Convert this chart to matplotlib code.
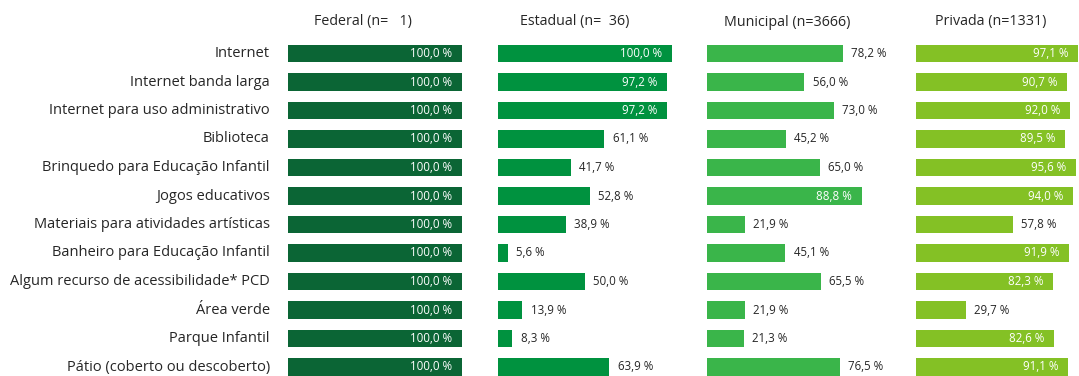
import matplotlib.pyplot as plt
from matplotlib.transforms import blended_transform_factory

plt.rcParams['font.family'] = ['Open Sans', 'DejaVu Sans']

categories = [
    "Internet",
    "Internet banda larga",
    "Internet para uso administrativo",
    "Biblioteca",
    "Brinquedo para Educação Infantil",
    "Jogos educativos",
    "Materiais para atividades artísticas",
    "Banheiro para Educação Infantil",
    "Algum recurso de acessibilidade* PCD",
    "Área verde",
    "Parque Infantil",
    "Pátio (coberto ou descoberto)",
]

titles = ["Federal (n=   1)", "Estadual (n=  36)", "Municipal (n=3666)", "Privada (n=1331)"]

federal = [100.0] * 12
estadual = [100.0, 97.2, 97.2, 61.1, 41.7, 52.8, 38.9, 5.6, 50.0, 13.9, 8.3, 63.9]
municipal = [78.2, 56.0, 73.0, 45.2, 65.0, 88.8, 21.9, 45.1, 65.5, 21.9, 21.3, 76.5]
privada = [97.1, 90.7, 92.0, 89.5, 95.6, 94.0, 57.8, 91.9, 82.3, 29.7, 82.6, 91.1]

series = [federal, estadual, municipal, privada]
colors = ["#0b6535", "#00923f", "#3ab54a", "#84c125"]

W, H = 1079, 376
fig = plt.figure(figsize=(W / 100, H / 100), dpi=100)

# panel placement in pixels (left edge, width of the 0-100 scale)
lefts = [288, 498, 707, 916]
widths = [174, 174, 174, 167]
title_x = [0.43, 0.44, 0.46, 0.45]
row_h = 28.5
top = 53.5 - row_h / 2
n = len(categories)

for k, (vals, color, title) in enumerate(zip(series, colors, titles)):
    ax = fig.add_axes([lefts[k] / W, 1 - (top + n * row_h) / H,
                       widths[k] / W, n * row_h / H])
    ax.barh(range(n), vals, height=0.63, color=color)
    ax.set_xlim(0, 100)
    ax.set_ylim(n - 0.5, -0.5)
    ax.axis('off')
    for i, v in enumerate(vals):
        label = f"{v:.1f}".replace('.', ',') + " %"
        if v >= 80:
            ax.annotate(label, (v, i), xytext=(-7, 0), textcoords='offset points',
                        ha='right', va='center', fontsize=8.3, color='white')
        else:
            ax.annotate(label, (v, i), xytext=(6, 0), textcoords='offset points',
                        ha='left', va='center', fontsize=8.3, color='#262626')
    trans = blended_transform_factory(ax.transAxes, fig.transFigure)
    ax.text(title_x[k], 1 - 22 / H, title, transform=trans,
            fontsize=10.3, color='#262626', ha='center', va='center')
    if k == 0:
        for i, c in enumerate(categories):
            ax.annotate(c, (0, i), xytext=(-13, 0), textcoords='offset points',
                        ha='right', va='center', fontsize=10.5, color='#262626')

fig.savefig('out.png', dpi=100)
